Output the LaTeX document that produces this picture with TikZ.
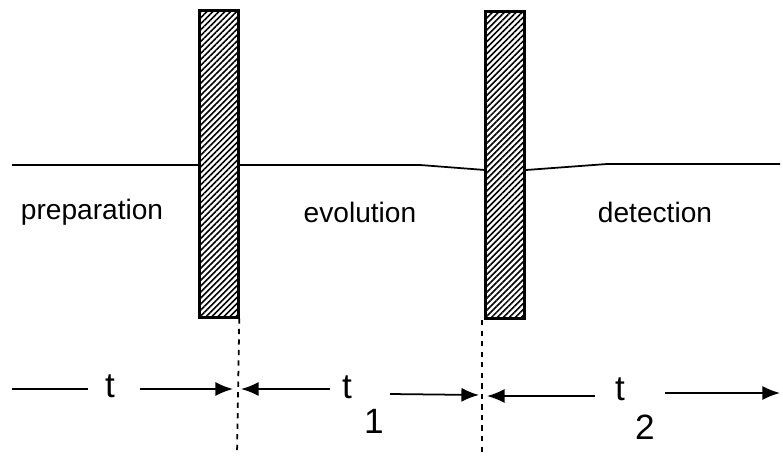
\documentclass[tikz,border=0pt]{standalone}
\usepackage{fontspec}
\setmainfont{Liberation Sans}
\usepackage{tikz}
\usetikzlibrary{arrows.meta,patterns.meta,positioning}

\begin{document}
\begin{tikzpicture}[x=0.02cm,y=-0.02cm,>={Latex[length=10pt,width=8pt]},semithick]
  \tikzstyle{pulse}=[draw=black,line width=1.8pt,inner sep=0pt,minimum width=0.78cm,minimum height=6.14cm,pattern={Lines[angle=45,distance=2.4pt,line width=0.9pt]}]
  \tikzstyle{lbl}=[font=\fontsize{16}{18}\selectfont,inner sep=1pt]
  \tikzstyle{tlbl}=[font=\fontsize{20}{22}\selectfont,inner sep=1pt]
  \tikzstyle{bound}=[line width=1pt,dash pattern=on 3pt off 3pt]
\useasboundingbox (0,0) rectangle (783,463);
% pulses
\node[pulse] (p1) at (219,164) {};
\node[pulse] (p2) at (505,165) {};
% free precession line
\coordinate (l0) at (12,165);
\coordinate (b1) at (420,165);
\coordinate (b2) at (485,170);
\coordinate (b3) at (607,164);
\coordinate (r0) at (780,164);
\draw[line width=1pt] (l0) -- (l0 -| p1.west);
\draw[line width=1pt] (p1.east |- l0) -- (b1) -- (b2);
\draw[line width=1pt] (p2.east |- b2) -- (b3) -- (r0);
% periods
\node[lbl] (prep) at (92,212) {preparation};
\node[lbl] (evol) at (360,212) {evolution};
\node[lbl] (det) at (655,212) {detection};
% boundaries
\coordinate (d1) at (237,455);
\coordinate (d2) at (482,455);
\draw[bound] (p1.south east) -- (d1);
\draw[bound] (p2.south west -| d2) -- (d2);
% times
\coordinate (a0) at (12,389);
\coordinate (e1) at (233,389);
\coordinate (e2) at (479,395);
\coordinate (e3) at (780,393);
\node[tlbl] (t0) at (110,386) {t};
\node[tlbl] (t1) at (347,387) {t};
\node[tlbl] (s1) at (374,421) {1};
\node[tlbl] (t2) at (620,389) {t};
\node[tlbl] (s2) at (645,427) {2};
\draw[line width=1pt] (a0) -- (88,389);
\draw[line width=1pt,->] (140,389) -- (e1);
\draw[line width=1pt,->] (330,389) -- (241,389);
\draw[line width=1pt,->] (390,394) -- (e2);
\draw[line width=1pt,->] (595,396) -- (487,396);
\draw[line width=1pt,->] (665,393) -- (e3);
\end{tikzpicture}
\end{document}
